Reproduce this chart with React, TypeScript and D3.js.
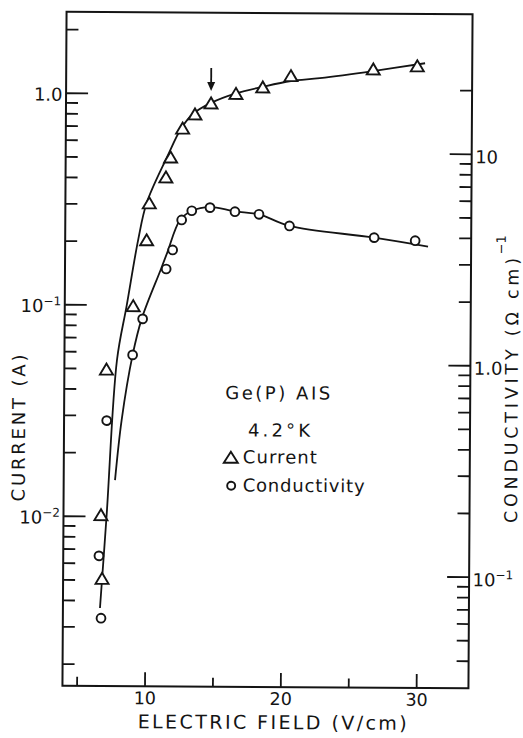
import React from 'react';
import * as d3 from 'd3';

// ---- data ----
const currentField = [6.79, 6.68, 7.02, 8.96, 9.92, 10.1, 11.31, 11.65, 12.52, 13.42, 14.6, 16.43, 18.4, 20.47, 26.53, 29.77];
const currentValue = [0.0051, 0.0102, 0.0498, 0.0995, 0.204, 0.305, 0.405, 0.503, 0.69, 0.805, 0.909, 1.01, 1.085, 1.23, 1.33, 1.38];

const condField = [6.73, 6.55, 7.06, 8.94, 9.66, 11.37, 11.84, 12.49, 13.23, 14.57, 16.41, 18.18, 20.43, 26.67, 29.69];
const condValue = [0.0624, 0.123, 0.537, 1.1, 1.63, 2.81, 3.46, 4.8, 5.31, 5.5, 5.27, 5.13, 4.53, 4.01, 3.89];

const currentFitField = [6.65, 7.1, 7.79, 8.48, 9.31, 9.91, 11.39, 12.43, 13.27, 14.6, 16.43, 18.35, 20.47, 22.6, 26.51, 30.34];
const currentFitValue = [0.00369, 0.0102, 0.055, 0.0995, 0.206, 0.305, 0.503, 0.69, 0.805, 0.909, 1.01, 1.085, 1.16, 1.2, 1.3, 1.42];

const condFitField = [7.7, 8.16, 8.94, 9.59, 10.99, 11.45, 12.37, 13.25, 14.57, 16.41, 18.18, 20.43, 26.67, 30.64];
const condFitValue = [0.281, 0.541, 1.1, 1.63, 2.81, 3.37, 4.8, 5.31, 5.53, 5.29, 5.13, 4.53, 4.01, 3.65];

const arrowField = 14.6;
const arrowCurrent = 0.909;

const xTickValues = [5, 10, 15, 20, 25, 30];
const xTickLabels = ['', '10', '', '20', '', '30'];

const leftMajor = [1, 0.1, 0.01];
const leftLabels = ['1.0', '10', '10'];
const leftSups = ['', '\u22121', '\u22122'];

const rightMajor = [10, 1, 0.1];
const rightLabels = ['10', '1.0', '10'];
const rightSups = ['', '', '\u22121'];

const legendLines = ['Ge(P) AIS', '4.2\u00B0K', 'Current', 'Conductivity'];

// ---- layout ----
const W = 523;
const H = 738;
const F = { left: 64.5, right: 470.5, top: 13, bottom: 687 };
const INK = '#141414';
const FONT = 'DejaVu Sans';

function triPath(cx: number, cy: number, w = 13, h = 11) {
  return `M${cx},${cy - h / 2}L${cx - w / 2},${cy + h / 2}L${cx + w / 2},${cy + h / 2}Z`;
}

export default function App() {
  const x = d3.scaleLinear().domain([10, 30]).range([147.06, 418.7]);
  const yL = d3.scaleLog().domain([1, 0.01]).range([94.5, 517.5]);
  const yR = d3.scaleLog().domain([10, 0.1]).range([153.1, 575.9]);

  const leftTicks = yL
    .copy()
    .domain([yL.invert(F.bottom), yL.invert(F.top)])
    .ticks()
    .filter((v) => yL(v) > F.top + 1 && yL(v) < F.bottom - 1);
  const rightTicks = yR
    .copy()
    .domain([yR.invert(F.bottom), yR.invert(F.top)])
    .ticks()
    .filter((v) => yR(v) > F.top + 1 && yR(v) < F.bottom - 3 && v <= 20);

  const isMajor = (v: number) => Math.abs(Math.log10(v) - Math.round(Math.log10(v))) < 1e-6;

  const lineL = d3
    .line<[number, number]>()
    .x((d) => x(d[0]))
    .y((d) => yL(d[1]))
    .curve(d3.curveCatmullRom.alpha(0.5));
  const lineR = d3
    .line<[number, number]>()
    .x((d) => x(d[0]))
    .y((d) => yR(d[1]))
    .curve(d3.curveCatmullRom.alpha(0.5));

  const curFit = currentFitField.map((f, i) => [f, currentFitValue[i]] as [number, number]);
  const condFit = condFitField.map((f, i) => [f, condFitValue[i]] as [number, number]);

  const ax = x(arrowField);
  const ay = yL(arrowCurrent);

  return (
    <svg
      width={W}
      height={H}
      style={{ position: 'absolute', left: 0, top: 0, background: '#fff' }}
      fontFamily={FONT}
    >
      <rect width={W} height={H} fill="#fff" />
      <g transform="rotate(0.35 268 350)" fill={INK}>
        {/* frame */}
        <path
          d={`M${F.left},${F.top}H${F.right}V${F.bottom}H${F.left}Z`}
          fill="none"
          stroke={INK}
          strokeWidth={2}
        />
        {/* x ticks */}
        {xTickValues.map((v, i) => (
          <g key={'xt' + v}>
            <line
              x1={x(v)}
              x2={x(v)}
              y1={F.bottom}
              y2={F.bottom - (v % 10 === 0 ? 14 : 9)}
              stroke={INK}
              strokeWidth={1.8}
            />
            {xTickLabels[i] && (
              <text x={x(v)} y={705} textAnchor="middle" fontSize={17.5}>
                {xTickLabels[i]}
              </text>
            )}
          </g>
        ))}
        {/* left ticks */}
        {leftTicks.map((v) => (
          <line
            key={'lt' + v}
            x1={F.left}
            x2={F.left + (isMajor(v) ? 22 : 12)}
            y1={yL(v)}
            y2={yL(v)}
            stroke={INK}
            strokeWidth={1.8}
          />
        ))}
        {leftMajor.map((v, i) => (
          <text key={'ll' + v} x={61} y={yL(v) + 7.5} textAnchor="end" fontSize={18}>
            <tspan>{leftLabels[i]}</tspan>
            {leftSups[i] && (
              <tspan dy={-7} fontSize={12}>
                {leftSups[i]}
              </tspan>
            )}
          </text>
        ))}
        {/* right ticks */}
        {rightTicks.map((v) => (
          <line
            key={'rt' + v}
            x1={F.right}
            x2={F.right - (isMajor(v) ? 22 : 12)}
            y1={yR(v)}
            y2={yR(v)}
            stroke={INK}
            strokeWidth={1.8}
          />
        ))}
        {rightMajor.map((v, i) => (
          <text key={'rl' + v} x={474} y={yR(v) + 9} textAnchor="start" fontSize={18}>
            <tspan>{rightLabels[i]}</tspan>
            {rightSups[i] && (
              <tspan dy={-7} fontSize={12}>
                {rightSups[i]}
              </tspan>
            )}
          </text>
        ))}

        {/* axis titles */}
        <text x={140} y={729} fontSize={19} textLength={269} lengthAdjust="spacing">
          ELECTRIC FIELD (V/cm)
        </text>
        <text
          transform="translate(25.5,429.5) rotate(-90)"
          textAnchor="middle"
          fontSize={18}
          textLength={147}
          lengthAdjust="spacing"
        >
          CURRENT (A)
        </text>
        <text
          transform="translate(518,521.5) rotate(-90)"
          textAnchor="start"
          fontSize={17.5}
          textLength={265}
          lengthAdjust="spacing"
        >
          CONDUCTIVITY (Ω cm)
        </text>
        <text transform="translate(505,253) rotate(-90)" textAnchor="start" fontSize={13}>
          {'\u22121'}
        </text>

        {/* fitted curves */}
        <path d={lineL(curFit) || ''} fill="none" stroke={INK} strokeWidth={1.8} />
        <path d={lineR(condFit) || ''} fill="none" stroke={INK} strokeWidth={1.8} />

        {/* markers */}
        {currentField.map((f, i) => (
          <path
            key={'tri' + i}
            d={triPath(x(f), yL(currentValue[i]))}
            fill="#fff"
            stroke={INK}
            strokeWidth={1.9}
            strokeLinejoin="miter"
          />
        ))}
        {condField.map((f, i) => (
          <circle
            key={'cir' + i}
            cx={x(f)}
            cy={yR(condValue[i])}
            r={4.4}
            fill="#fff"
            stroke={INK}
            strokeWidth={1.9}
          />
        ))}

        {/* arrow annotation */}
        <line x1={ax} x2={ax} y1={ay - 35} y2={ay - 19} stroke={INK} strokeWidth={1.8} />
        <path d={`M${ax - 4},${ay - 21}L${ax + 4},${ay - 21}L${ax},${ay - 12}Z`} fill={INK} />

        {/* legend */}
        <text x={225.5} y={399.3} fontSize={18} textLength={105} lengthAdjust="spacing">
          {legendLines[0]}
        </text>
        <text x={248.5} y={436.5} fontSize={18} textLength={62} lengthAdjust="spacing">
          {legendLines[1]}
        </text>
        <path d={triPath(231.5, 457.5, 14, 11)} fill="#fff" stroke={INK} strokeWidth={1.9} />
        <text x={243.5} y={463.3} fontSize={18} textLength={74} lengthAdjust="spacing">
          {legendLines[2]}
        </text>
        <circle cx={232} cy={486} r={4} fill="#fff" stroke={INK} strokeWidth={1.9} />
        <text x={243.5} y={491.7} fontSize={18} textLength={122} lengthAdjust="spacing">
          {legendLines[3]}
        </text>
      </g>
    </svg>
  );
}
